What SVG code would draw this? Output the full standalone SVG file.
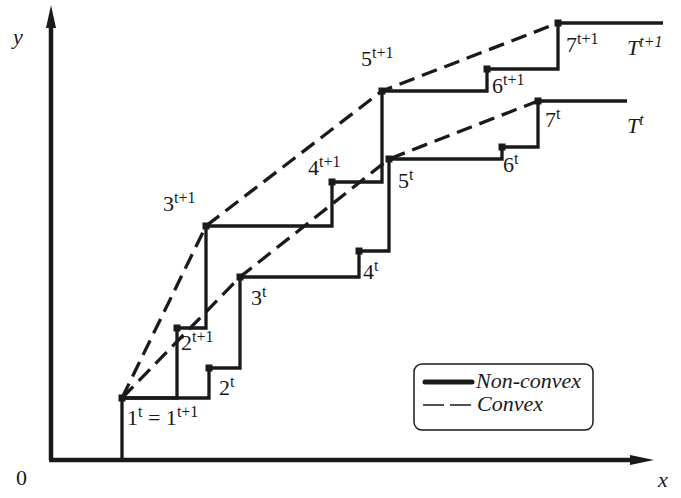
<svg xmlns="http://www.w3.org/2000/svg" width="681" height="498" viewBox="0 0 681 498">
  <style>
    text { font-family: "Liberation Serif", "Times New Roman", serif; fill: #1a1a1a; }
    .lbl { font-size: 22px; }
    .sup { font-size: 16px; }
    .it { font-style: italic; }
    .axis { stroke: #1a1a1a; stroke-width: 4.5; fill: none; }
    .step { stroke: #1a1a1a; stroke-width: 3.3; fill: none; stroke-linejoin: miter; }
    .hull { stroke: #1a1a1a; stroke-width: 3.3; fill: none; stroke-dasharray: 16 8; }
    .pt { fill: #1a1a1a; }
  </style>
  <defs>
    <rect id="sq" x="-3.5" y="-3.5" width="7" height="7"/>
  </defs>
  <rect width="681" height="498" fill="#ffffff"/>

  <!-- axes -->
  <g id="axes">
    <path class="axis" d="M51,460 V26"/>
    <path class="axis" d="M49,460 H631"/>
    <polygon fill="#1a1a1a" points="51,5 46,28 56,28"/>
    <polygon fill="#1a1a1a" points="654,460 630,455 630,465"/>
    <text class="lbl it" x="13" y="44">y</text>
    <text class="lbl it" x="658" y="487">x</text>
    <text class="lbl" x="16" y="485">0</text>
  </g>

  <!-- connectors: staircase frontiers and their convex hulls -->
  <g id="connectors">
    <path id="frontier-t1" class="step" d="M122,398 H177 V328 H206 V226 H332 V182 H382 V91 H487 V69 H558 V23 H663"/>
    <path id="frontier-t" class="step" d="M122,460 V398 H209 V368 H240 V277 H359 V251 H389 V159 H502 V147 H538 V101 H627"/>
    <path id="hull-t1" class="hull" d="M122,398 L206,226 L382,91 L558,23"/>
    <path id="hull-t" class="hull" d="M122,398 L240,277 L389,159 L538,101"/>
  </g>

  <!-- nodes -->
  <g id="n1"><use href="#sq" class="pt" x="122" y="398"/>
    <text class="lbl" x="127" y="425">1<tspan class="sup" dy="-8">t</tspan><tspan dy="8"> = 1</tspan><tspan class="sup" dy="-8">t+1</tspan></text></g>
  <g id="n2t1"><use href="#sq" class="pt" x="177" y="328"/>
    <text class="lbl" x="181" y="350">2<tspan class="sup" dy="-8">t+1</tspan></text></g>
  <g id="n2t"><use href="#sq" class="pt" x="209" y="368"/>
    <text class="lbl" x="219" y="395">2<tspan class="sup" dy="-8">t</tspan></text></g>
  <g id="n3t1"><use href="#sq" class="pt" x="206" y="226"/>
    <text class="lbl" x="163" y="211">3<tspan class="sup" dy="-8">t+1</tspan></text></g>
  <g id="n3t"><use href="#sq" class="pt" x="240" y="277"/>
    <text class="lbl" x="251" y="305">3<tspan class="sup" dy="-8">t</tspan></text></g>
  <g id="n4t1"><use href="#sq" class="pt" x="332" y="182"/>
    <text class="lbl" x="308" y="175">4<tspan class="sup" dy="-8">t+1</tspan></text></g>
  <g id="n4t"><use href="#sq" class="pt" x="359" y="251"/>
    <text class="lbl" x="363" y="279">4<tspan class="sup" dy="-8">t</tspan></text></g>
  <g id="n5t1"><use href="#sq" class="pt" x="382" y="91"/>
    <text class="lbl" x="361" y="66">5<tspan class="sup" dy="-8">t+1</tspan></text></g>
  <g id="n5t"><use href="#sq" class="pt" x="389" y="159"/>
    <text class="lbl" x="398" y="188">5<tspan class="sup" dy="-8">t</tspan></text></g>
  <g id="n6t1"><use href="#sq" class="pt" x="487" y="69"/>
    <text class="lbl" x="492" y="93">6<tspan class="sup" dy="-8">t+1</tspan></text></g>
  <g id="n6t"><use href="#sq" class="pt" x="502" y="147"/>
    <text class="lbl" x="503" y="172">6<tspan class="sup" dy="-8">t</tspan></text></g>
  <g id="n7t1"><use href="#sq" class="pt" x="558" y="23"/>
    <text class="lbl" x="566" y="52">7<tspan class="sup" dy="-8">t+1</tspan></text></g>
  <g id="n7t"><use href="#sq" class="pt" x="538" y="101"/>
    <text class="lbl" x="545" y="127">7<tspan class="sup" dy="-8">t</tspan></text></g>

  <!-- curve names -->
  <g id="curve-labels">
    <text class="lbl it" x="627" y="55">T<tspan class="sup" dy="-8">t+1</tspan></text>
    <text class="lbl it" x="627" y="133">T<tspan class="sup" dy="-8">t</tspan></text>
  </g>

  <!-- legend -->
  <g id="legend">
    <rect x="414" y="364" width="179" height="66" rx="8" fill="#ffffff" stroke="#1a1a1a" stroke-width="1.5"/>
    <line x1="425" y1="382" x2="472" y2="382" stroke="#1a1a1a" stroke-width="5" stroke-linecap="round"/>
    <line x1="423" y1="405" x2="471" y2="405" stroke="#1a1a1a" stroke-width="1.5" stroke-dasharray="21 6"/>
    <text class="it" x="476" y="388" font-size="22">Non-convex</text>
    <text class="it" x="477" y="411" font-size="22">Convex</text>
  </g>
</svg>
